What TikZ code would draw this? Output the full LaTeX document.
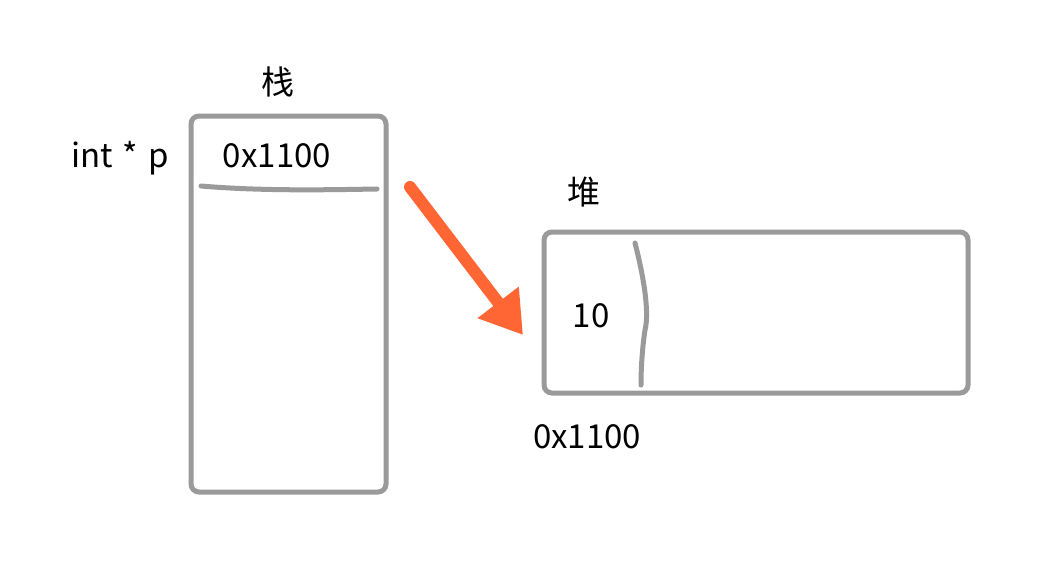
\documentclass[tikz,border=0pt]{standalone}
\usepackage{fontspec}
\setmainfont{Noto Sans CJK SC}
\usetikzlibrary{arrows.meta}

\definecolor{boxgray}{HTML}{9A9A9A}
\definecolor{ptrorange}{HTML}{FF6633}

\begin{document}
\begin{tikzpicture}[x=0.5pt,y=-0.5pt,
  every node/.style={font=\fontsize{16.5}{20}\selectfont,color=black,inner sep=0pt},
  membox/.style={draw=boxgray,line width=2.5pt,rounded corners=4pt,minimum width=#1},
  handline/.style={draw=boxgray,line width=2.5pt,line cap=round}]
\useasboundingbox (0,0) rectangle (1038,578);

% stack
\node[membox=97.5pt,minimum height=188pt](stack) at (288.5,304) {};
\node(stacklabel) at (278,82) {栈};
\node[anchor=base](varname) at (120,167) {int\hspace{0.3em}*\hspace{0.3em}p};
\node[anchor=base](ptrval) at (277,167) {0x1100};
\draw[handline] (201,186) .. controls (260,191) and (320,190) .. (377,189);

% heap
\node[membox=212pt,minimum height=80.5pt](heap) at (756,312.5) {};
\node(heaplabel) at (584,192) {堆};
\node[anchor=base](heapval) at (591,327) {10};
\node[anchor=base](heapaddr) at (587,448) {0x1100};
\draw[handline] (635,243) .. controls (642,270) and (650,310) .. (645,330) .. controls (642,350) and (641,370) .. (641,385);

% pointer
\coordinate(ptrtail) at (410,187);
\coordinate(ptrhead) at (523,335);
\draw[ptrorange,line width=6pt,line cap=round,-{Triangle[length=20.5pt,width=24.5pt]}] (ptrtail)--(ptrhead);
\end{tikzpicture}
\end{document}
